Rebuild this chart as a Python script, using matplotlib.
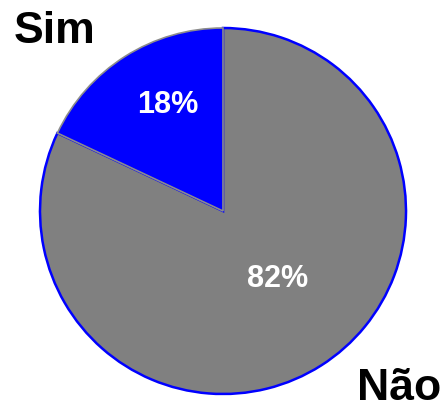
import matplotlib.pyplot as plt

# Data
labels = ['Sim', 'Não']
values = [18, 82]
colors = ['#0000ff', '#808080']
edges = ['#8c8c8c', '#0000ff']

fig = plt.figure(figsize=(4.48, 4.05), dpi=100)
ax = fig.add_axes([0, 0, 1, 1])

r = 183.0
wedges, texts, autotexts = ax.pie(values, labels=labels, colors=colors, startangle=90,
                                  autopct='%d%%', radius=1.0,
                                  textprops={'fontfamily': 'Liberation Sans', 'fontweight': 'bold'})

# wedge outlines: each slice uses the other colour as edge
for w, ec, lw in zip(wedges, edges, [1.2, 1.8]):
    w.set_edgecolor(ec)
    w.set_linewidth(lw)
wedges[0].set_zorder(3)

label_pos = [(-0.92, 0.98), (0.96, -0.97)]
for t, p in zip(texts, label_pos):
    t.set_position(p)
    t.set_fontsize(32)
    t.set_color('black')
    t.set_ha('center')
    t.set_va('center')

pct_pos = [(-0.30, 0.58), (0.30, -0.37)]
for t, p in zip(autotexts, pct_pos):
    t.set_position(p)
    t.set_fontsize(22)
    t.set_color('white')
    t.set_ha('center')
    t.set_va('center')

ax.set_xlim(-223 / r, 225 / r)
ax.set_ylim(-(405 - 211) / r, 211 / r)
ax.set_aspect('equal')
ax.axis('off')

fig.savefig('out.png', dpi=100)
